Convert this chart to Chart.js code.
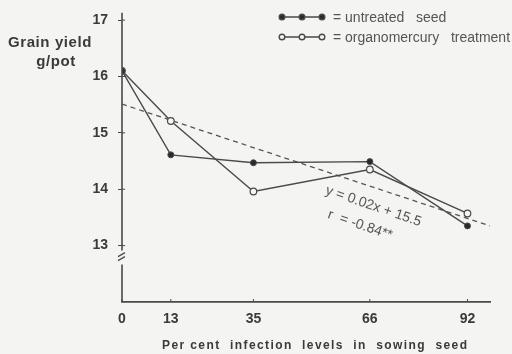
<!DOCTYPE html>
<html>
<head>
<meta charset="utf-8">
<script src="https://cdn.jsdelivr.net/npm/chart.js@4/dist/chart.umd.min.js"></script>
<style>
  html, body { margin: 0; padding: 0; background: #f4f4f2; }
  #wrap { width: 512px; height: 354px; }
</style>
</head>
<body>
<div id="wrap"><canvas id="yieldChart" width="512" height="354"></canvas></div>
<script>
// infection levels (per cent) on the x axis
const infectionLevels = [0, 13, 35, 66, 92];
// grain yield g/pot
const untreatedSeed = [16.1, 14.61, 14.47, 14.49, 13.35];
const organomercury = [16.1, 15.21, 13.96, 14.35, 13.57];
// fitted regression line end points
const trendX = [0, 98];
const trendY = [15.51, 13.35];
const yTicks = [13, 14, 15, 16, 17];

const ink = '#4a4a4a';
const textInk = '#3a3a3a';

function toPoints(xs, ys) {
    return xs.map((x, i) => ({ x: x, y: ys[i] }));
}

// axes with a break, titles, legend and the equation text
const decorations = {
    id: 'decorations',
    afterDraw(chart) {
        const ctx = chart.ctx;
        const xs = chart.scales.x;
        const ys = chart.scales.y;
        const ax = xs.getPixelForValue(0);
        const y13 = ys.getPixelForValue(13);
        const bottom = ys.getPixelForValue(12);
        ctx.save();
        ctx.strokeStyle = ink;
        ctx.lineWidth = 1.6;
        // y axis, broken below 13
        ctx.beginPath();
        ctx.moveTo(ax, ys.getPixelForValue(17.13));
        ctx.lineTo(ax, y13 + 5);
        ctx.moveTo(ax, y13 + 19);
        ctx.lineTo(ax, bottom);
        ctx.stroke();
        ctx.lineWidth = 1.2;
        ctx.beginPath();
        ctx.moveTo(ax - 4, y13 + 11);
        ctx.lineTo(ax + 3, y13 + 7);
        ctx.moveTo(ax - 4, y13 + 15);
        ctx.lineTo(ax + 3, y13 + 11);
        ctx.stroke();
        // y tick marks on the right of the axis
        ctx.lineWidth = 1;
        yTicks.forEach(v => {
            const py = ys.getPixelForValue(v);
            ctx.beginPath();
            ctx.moveTo(ax, py);
            ctx.lineTo(ax + 3, py);
            ctx.stroke();
        });
        // x tick marks
        infectionLevels.forEach(v => {
            const px = xs.getPixelForValue(v);
            ctx.beginPath();
            ctx.moveTo(px, bottom - 3);
            ctx.lineTo(px, bottom);
            ctx.stroke();
        });

        // y title
        ctx.fillStyle = textInk;
        ctx.font = 'bold 15px "Liberation Sans", Arial, sans-serif';
        ctx.letterSpacing = '0.6px';
        ctx.textAlign = 'center';
        ctx.textBaseline = 'middle';
        ctx.fillText('Grain yield', 50, 43);
        ctx.fillText('g/pot', 56, 62);

        // x title
        ctx.font = 'bold 12px "Liberation Sans", Arial, sans-serif';
        ctx.letterSpacing = '1.4px';
        ctx.textAlign = 'left';
        ctx.fillText('Per cent  infection  levels  in  sowing  seed', 162, 346);
        ctx.letterSpacing = '0px';

        // legend
        const rows = [
            { y: 17, filled: true, label: '= untreated   seed' },
            { y: 37, filled: false, label: '= organomercury   treatment' }
        ];
        ctx.font = '14px "Liberation Sans", Arial, sans-serif';
        rows.forEach(r => {
            ctx.strokeStyle = ink;
            ctx.lineWidth = 1.4;
            ctx.beginPath();
            ctx.moveTo(281, r.y);
            ctx.lineTo(324, r.y);
            ctx.stroke();
            [282, 302, 322].forEach(mx => {
                ctx.beginPath();
                ctx.arc(mx, r.y, 2.8, 0, Math.PI * 2);
                ctx.fillStyle = r.filled ? '#2a2a2a' : '#f4f4f2';
                ctx.fill();
                ctx.stroke();
            });
            ctx.fillStyle = '#555';
            ctx.textAlign = 'left';
            ctx.fillText(r.label, 333, r.y + 1);
        });

        // regression text
        ctx.fillStyle = '#555';
        ctx.font = '14px "Liberation Sans", Arial, sans-serif';
        ctx.translate(326, 190);
        ctx.rotate(19 * Math.PI / 180);
        ctx.fillText('y = 0.02x + 15.5', 0, 0);
        ctx.fillText('r  = -0.84**', 10, 22);
        ctx.restore();
    }
};

new Chart(document.getElementById('yieldChart').getContext('2d'), {
    type: 'line',
    data: {
        datasets: [{
            label: 'untreated seed',
            data: toPoints(infectionLevels, untreatedSeed),
            borderColor: ink,
            borderWidth: 1.4,
            pointRadius: 3,
            pointBackgroundColor: '#2a2a2a',
            pointBorderColor: ink,
            pointBorderWidth: 1,
            tension: 0
        }, {
            label: 'organomercury treatment',
            data: toPoints(infectionLevels, organomercury),
            borderColor: ink,
            borderWidth: 1.4,
            pointRadius: 3.3,
            pointBackgroundColor: '#f4f4f2',
            pointBorderColor: ink,
            pointBorderWidth: 1.2,
            tension: 0
        }, {
            label: 'regression',
            data: toPoints(trendX, trendY),
            borderColor: '#555',
            borderWidth: 1.3,
            borderDash: [5, 4],
            pointRadius: 0
        }]
    },
    options: {
        responsive: false,
        animation: false,
        layout: { padding: { top: 6, right: 22, left: 0, bottom: 0 } },
        plugins: {
            legend: { display: false },
            tooltip: { enabled: false }
        },
        scales: {
            x: {
                type: 'linear',
                min: 0,
                max: 98,
                afterBuildTicks: axis => { axis.ticks = infectionLevels.map(v => ({ value: v })); },
                afterFit: axis => { axis.height = 52; },
                grid: { display: false },
                border: { display: true, color: ink, width: 1.8 },
                ticks: {
                    padding: 1,
                    color: textInk,
                    font: { family: '"Liberation Sans", Arial, sans-serif', size: 14, weight: 'bold' }
                }
            },
            y: {
                min: 12,
                max: 17.03,
                afterBuildTicks: axis => { axis.ticks = yTicks.map(v => ({ value: v })); },
                afterFit: axis => { axis.width = 122; },
                grid: { drawOnChartArea: false, drawTicks: true, tickLength: 4, color: ink },
                border: { display: false },
                ticks: {
                    padding: 10,
                    color: textInk,
                    font: { family: '"Liberation Sans", Arial, sans-serif', size: 14, weight: 'bold' }
                }
            }
        }
    },
    plugins: [decorations]
});
</script>
</body>
</html>
